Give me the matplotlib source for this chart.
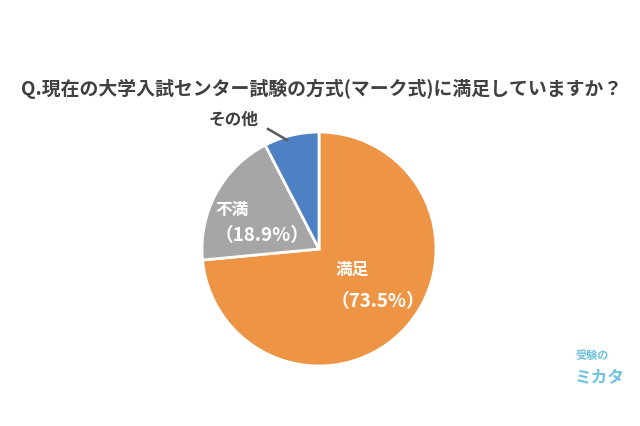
import matplotlib.pyplot as plt

plt.rcParams['font.family'] = ['Noto Sans CJK JP', 'DejaVu Sans']

title = "Q.現在の大学入試センター試験の方式(マーク式)に満足していますか？"
labels = ["満足", "不満", "その他"]
values = [73.5, 18.9, 7.6]
colors = ["#ED9445", "#A6A6A6", "#4E81C4"]


def main():
	fig = plt.figure(figsize=(6.4, 4.26), dpi=100)
	ax = fig.add_axes([0, 0, 1, 1])
	ax.set_xlim(0, 640)
	ax.set_ylim(0, 426)
	ax.set_aspect("equal")
	ax.axis("off")

	# pixel-based layout, y measured from bottom
	cx, cy, r = 319, 426 - 249, 117
	ax.pie(values, colors=colors, startangle=90, counterclock=False,
		center=(cx, cy), radius=r,
		wedgeprops=dict(edgecolor="white", linewidth=2))
	ax.set_xlim(0, 640)
	ax.set_ylim(0, 426)

	ax.text(322, 426 - 89, title, ha="center", va="center",
		fontsize=13.6, fontweight="bold", color="#404040")

	# 満足
	ax.text(352, 426 - 270, labels[0], ha="center", va="center",
		fontsize=12, fontweight="bold", color="white")
	ax.text(378, 426 - 302, f"（{values[0]}%）", ha="center", va="center",
		fontsize=13.5, fontweight="bold", color="white")
	# 不満
	ax.text(232, 426 - 210, labels[1], ha="center", va="center",
		fontsize=12, fontweight="bold", color="white")
	ax.text(262, 426 - 236, f"（{values[1]}%）", ha="center", va="center",
		fontsize=13.5, fontweight="bold", color="white")
	# その他 with leader line
	ax.text(233, 426 - 120, labels[2], ha="center", va="center",
		fontsize=12, fontweight="bold", color="#404040")
	ax.plot([268, 287], [426 - 129, 426 - 140], color="#595959", linewidth=1.8)

	# logo
	ax.text(592, 426 - 355, "受験の", ha="center", va="center",
		fontsize=8, fontweight="bold", color="#6FC3DF")
	ax.text(600, 426 - 378, "ミカタ", ha="center", va="center",
		fontsize=12, fontweight="bold", color="#6FC3DF")

	fig.savefig("out.png", dpi=100, facecolor="white")


if __name__ == "__main__":
	main()
